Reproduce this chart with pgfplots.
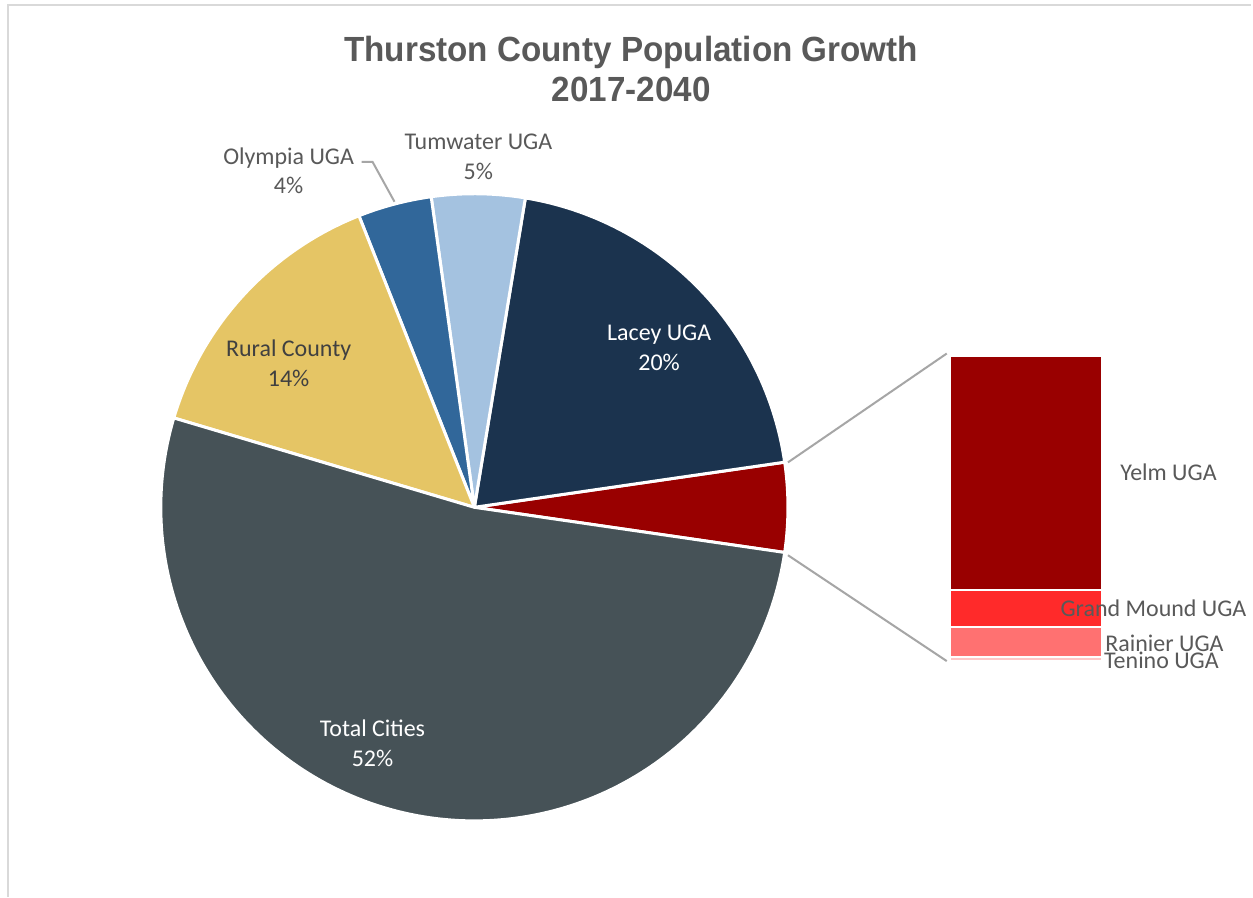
\documentclass[border=0pt]{standalone}
\usepackage{pgfplots}
\pgfplotsset{compat=1.18}
\usepackage{fontspec}
\setmainfont{Carlito}
\newfontfamily\titlefont[FakeStretch=0.95]{Liberation Sans}
\definecolor{cTotal}{HTML}{465257}
\definecolor{cRural}{HTML}{E5C565}
\definecolor{cOly}{HTML}{31679A}
\definecolor{cTum}{HTML}{A4C2E0}
\definecolor{cLacey}{HTML}{1B334E}
\definecolor{cYelm}{HTML}{990000}
\definecolor{cGM}{HTML}{FF2A2A}
\definecolor{cRain}{HTML}{FF7171}
\definecolor{cTen}{HTML}{FFC7C7}
\definecolor{lbl}{HTML}{595959}
\definecolor{frame}{HTML}{D9D9D9}
\definecolor{lead}{HTML}{A6A6A6}
\begin{document}
\begin{tikzpicture}
\begin{axis}[width=626.5pt, height=449pt, scale only axis,
  xmin=0, xmax=1253, ymin=0, ymax=898, hide axis, clip=false]
% background
\addplot[draw=none, fill=white] coordinates {(0,0) (1253,0) (1253,898) (0,898)} -- cycle;
% frame
\addplot[frame, line width=1pt] coordinates {(8,0) (8,893) (1253,893)};
% pie slices: shares (percent) -> angles; centre (475,390), radius 314
% Other UGAs 4.6, Lacey 20.1, Tumwater 4.8, Olympia 3.8, Rural 14.4, Total Cities 52.3
\addplot[fill=cYelm, draw=white, line width=1.5pt, line join=round, domain=-8.28:8.28, samples=20] ({475+314*cos(x)},{390+314*sin(x)}) -- (axis cs:475,390) -- cycle;
\addplot[fill=cLacey, draw=white, line width=1.5pt, line join=round, domain=8.28:80.64, samples=60] ({475+314*cos(x)},{390+314*sin(x)}) -- (axis cs:475,390) -- cycle;
\addplot[fill=cTum, draw=white, line width=1.5pt, line join=round, domain=80.64:97.92, samples=20] ({475+314*cos(x)},{390+314*sin(x)}) -- (axis cs:475,390) -- cycle;
\addplot[fill=cOly, draw=white, line width=1.5pt, line join=round, domain=97.92:111.6, samples=20] ({475+314*cos(x)},{390+314*sin(x)}) -- (axis cs:475,390) -- cycle;
\addplot[fill=cRural, draw=white, line width=1.5pt, line join=round, domain=111.6:163.44, samples=50] ({475+314*cos(x)},{390+314*sin(x)}) -- (axis cs:475,390) -- cycle;
\addplot[fill=cTotal, draw=white, line width=1.5pt, line join=round, domain=163.44:351.72, samples=150] ({475+314*cos(x)},{390+314*sin(x)}) -- (axis cs:475,390) -- cycle;
% bar of pie: Yelm 3.53, Grand Mound 0.56, Rainier 0.45, Tenino 0.06 (66.5 px per percent)
\addplot[fill=cTen, draw=white, line width=1pt] coordinates {(951,236) (1103,236) (1103,240) (951,240)} -- cycle;
\addplot[fill=cRain, draw=white, line width=1pt] coordinates {(951,240) (1103,240) (1103,270) (951,270)} -- cycle;
\addplot[fill=cGM, draw=white, line width=1pt] coordinates {(951,270) (1103,270) (1103,307.3) (951,307.3)} -- cycle;
\addplot[fill=cYelm, draw=white, line width=1pt] coordinates {(951,307.3) (1103,307.3) (1103,542) (951,542)} -- cycle;
% connector lines
\addplot[lead, line width=1pt] coordinates {(789,435) (948,544)};
\addplot[lead, line width=1pt] coordinates {(789,342) (948,236)};
% Olympia leader
\addplot[lead, line width=1pt] coordinates {(362,736) (373,736) (395,696)};
% labels
\node[font=\fontsize{12}{15}\selectfont, text=lbl, align=center] at (axis cs:289,727) {Olympia UGA\\4\%};
\node[font=\fontsize{12}{15}\selectfont, text=lbl, align=center] at (axis cs:479,740.5) {Tumwater UGA\\5\%};
\node[font=\fontsize{12}{15}\selectfont, text=white, align=center] at (axis cs:660,550) {Lacey UGA\\20\%};
\node[font=\fontsize{12}{15}\selectfont, text=black!75, align=center] at (axis cs:289,534) {Rural County\\14\%};
\node[font=\fontsize{12}{15}\selectfont, text=white, align=center] at (axis cs:373,154) {Total Cities\\52\%};
\node[font=\fontsize{12}{15}\selectfont, text=lbl] at (axis cs:1170,425) {Yelm UGA};
\node[font=\fontsize{12}{15}\selectfont, text=lbl] at (axis cs:1155,289) {Grand Mound UGA};
\node[font=\fontsize{12}{15}\selectfont, text=lbl] at (axis cs:1166,254) {Rainier UGA};
\node[font=\fontsize{12}{15}\selectfont, text=lbl] at (axis cs:1163,237) {Tenino UGA};
% title
\node[font=\titlefont\bfseries\fontsize{17.5}{20}\selectfont, text=lbl, align=center] at (axis cs:632,829) {Thurston County Population Growth\\2017-2040};
\end{axis}
\end{tikzpicture}
\end{document}
